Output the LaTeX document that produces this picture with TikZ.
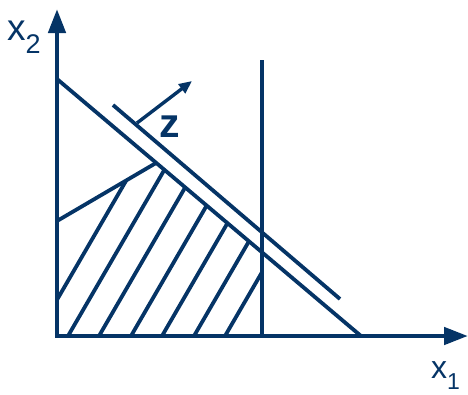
\documentclass[tikz,border=0pt]{standalone}
\usepackage{fontspec}
\setmainfont{Liberation Sans}
\usetikzlibrary{arrows.meta,calc}
\definecolor{lpblue}{RGB}{5,52,102}

\begin{document}
\begin{tikzpicture}[
  x=1pt, y=-1pt,
  ax/.style={draw=lpblue, line width=4.6pt, -{Triangle[length=24pt,width=17pt]}},
  ln/.style={draw=lpblue, line width=3.8pt},
  hatch/.style={draw=lpblue, line width=3.8pt},
  arr/.style={draw=lpblue, line width=3.4pt, -{Triangle[length=13pt,width=11pt]}},
  lbl/.style={text=lpblue, inner sep=0pt}
]
\useasboundingbox (0,0) rectangle (468,394);
% corner points
\coordinate (o)   at (57,336);
\coordinate (ytp) at (57,9);
\coordinate (xtp) at (468,336);
\coordinate (ca)  at (57,79);
\coordinate (cb)  at (361,336);
\coordinate (za)  at (113,105);
\coordinate (zb)  at (340,299);
\coordinate (va)  at (262,60);
\coordinate (vb)  at (262,336);
\coordinate (la)  at (57,221);
\coordinate (lb)  at (156,163);
\coordinate (zs)  at (137,123);
\coordinate (zt)  at (192,81);
\coordinate (d)   at (intersection of ca--cb and va--vb);
% hatched region
\begin{scope}
  \clip (o) -- (la) -- (lb) -- (d) -- (vb) -- cycle;
  \foreach \x in {36,68,99,131,162,194,225}
    \draw[hatch] (\x,336) -- ++(116,-200);
\end{scope}
% constraints
\draw[ln] (ca) -- (cb);
\draw[ln] (za) -- (zb);
\draw[ln] (va) -- (vb);
\draw[ln] (la) -- (lb);
\draw[arr] (zs) -- (zt);
% axes
\draw[ax] (o) -- (ytp);
\draw[ax] (55,336) -- (xtp);
% labels
\node[lbl, anchor=base west] (xtwo) at (7,40)
  {\fontsize{37}{37}\selectfont x\raisebox{-13pt}{\fontsize{27}{27}\selectfont 2}};
\node[lbl, anchor=base west] (xone) at (431,378)
  {\fontsize{32}{32}\selectfont x\raisebox{-11pt}{\fontsize{23}{23}\selectfont 1}};
\node[lbl, anchor=base west] (zlab) at (159,137)
  {\fontsize{41}{41}\selectfont\bfseries z};
\end{tikzpicture}
\end{document}
